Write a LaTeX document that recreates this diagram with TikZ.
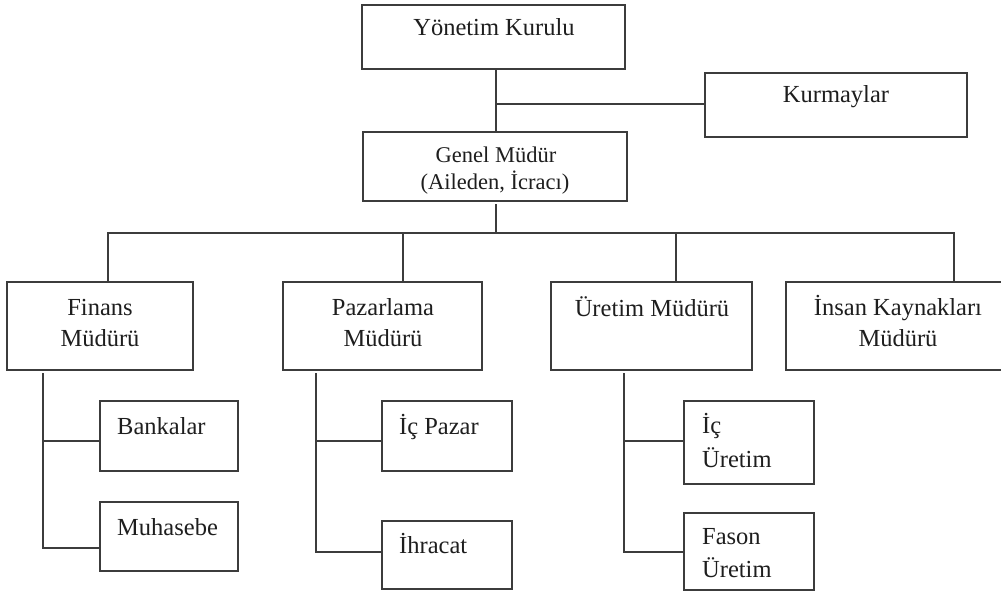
\documentclass[tikz,border=0pt]{standalone}
\usepackage{fontspec}
\setmainfont{Liberation Serif}
\definecolor{linec}{HTML}{3C3C3C}
\definecolor{txtc}{HTML}{1E1E1E}
\tikzset{
  box/.style={draw=linec, line width=1.8pt, rectangle, inner sep=0pt, outer sep=0pt, anchor=north west},
  conn/.style={draw=linec, line width=1.8pt},
  lbl/.style={inner sep=0pt, text=txtc, font=\fontsize{24.5}{28}\selectfont},
  lblsm/.style={inner sep=0pt, text=txtc, font=\fontsize{22.5}{26}\selectfont},
}
\begin{document}
\begin{tikzpicture}[x=1pt, y=-1pt]
\useasboundingbox (0,0) rectangle (1001,591);
\fill[white] (0,0) rectangle (1001,591);
% boxes
\node[box, minimum width=263, minimum height=64] (yk) at (362,5) {};
\node[box, minimum width=262, minimum height=64] (km) at (705,73) {};
\node[box, minimum width=264, minimum height=69] (gm) at (363,132) {};
\node[box, minimum width=186, minimum height=88] (fin) at (7,282) {};
\node[box, minimum width=199, minimum height=88] (pz) at (283,282) {};
\node[box, minimum width=201, minimum height=88] (ur) at (551,282) {};
\node[box, minimum width=220, minimum height=88] (ik) at (786,282) {};
\node[box, minimum width=138, minimum height=70] (bank) at (100,401) {};
\node[box, minimum width=138, minimum height=69] (muh) at (100,502) {};
\node[box, minimum width=130, minimum height=70] (icp) at (382,401) {};
\node[box, minimum width=130, minimum height=68] (ihr) at (382,521) {};
\node[box, minimum width=130, minimum height=83] (icu) at (684,401) {};
\node[box, minimum width=130, minimum height=77] (fas) at (684,513) {};
% texts
\node[lbl, anchor=base] (ykt) at (494,36) {Yönetim Kurulu};
\node[lbl, anchor=base] (kmt) at (836,103) {Kurmaylar};
\node[lblsm, anchor=base] (gmt1) at (496,162) {Genel Müdür};
\node[lblsm, anchor=base] (gmt2) at (495,189) {(Aileden, İcracı)};
\node[lbl, anchor=base] (fint1) at (100,315) {Finans};
\node[lbl, anchor=base] (fint2) at (100,346) {Müdürü};
\node[lbl, anchor=base] (pzt1) at (383,315) {Pazarlama};
\node[lbl, anchor=base] (pzt2) at (383,346) {Müdürü};
\node[lbl, anchor=base] (urt) at (652,316) {Üretim Müdürü};
\node[lbl, anchor=base] (ikt1) at (898,315) {İnsan Kaynakları};
\node[lbl, anchor=base] (ikt2) at (898,346) {Müdürü};
\node[lbl, anchor=base west] (bankt) at (117,434) {Bankalar};
\node[lbl, anchor=base west] (muht) at (117,535) {Muhasebe};
\node[lbl, anchor=base west] (icpt) at (399,434) {İç Pazar};
\node[lbl, anchor=base west] (ihrt) at (399,553) {İhracat};
\node[lbl, anchor=base west] (icut1) at (702,433) {İç};
\node[lbl, anchor=base west] (icut2) at (702,467) {Üretim};
\node[lbl, anchor=base west] (fast1) at (702,544) {Fason};
\node[lbl, anchor=base west] (fast2) at (702,577) {Üretim};
% connector coordinates
\coordinate (t1) at (496,104);
\coordinate (bus) at (496,233);
\coordinate (s1) at (108,233);
\coordinate (s2) at (403,233);
\coordinate (s3) at (676,233);
\coordinate (s4) at (954,233);
\coordinate (f1) at (43,441);
\coordinate (f2) at (43,548);
\coordinate (p1) at (316,441);
\coordinate (p2) at (316,552);
\coordinate (u1) at (624,441);
\coordinate (u2) at (624,552);
% connectors
\draw[conn] (yk.south -| t1) -- (gm.north -| t1);
\draw[conn] (t1) -- (km.west |- t1);
\draw[conn, shorten <=3pt] (gm.south -| bus) -- (bus);
\draw[conn] (fin.north -| s1) -- (s1) -- (s4) -- (ik.north -| s4);
\draw[conn] (s2) -- (pz.north -| s2);
\draw[conn] (s3) -- (ur.north -| s3);
\draw[conn, shorten <=3pt] (fin.south -| f2) -- (f2) -- (muh.west |- f2);
\draw[conn] (f1) -- (bank.west |- f1);
\draw[conn, shorten <=3pt] (pz.south -| p2) -- (p2) -- (ihr.west |- p2);
\draw[conn] (p1) -- (icp.west |- p1);
\draw[conn, shorten <=3pt] (ur.south -| u2) -- (u2) -- (fas.west |- u2);
\draw[conn] (u1) -- (icu.west |- u1);
\end{tikzpicture}
\end{document}
